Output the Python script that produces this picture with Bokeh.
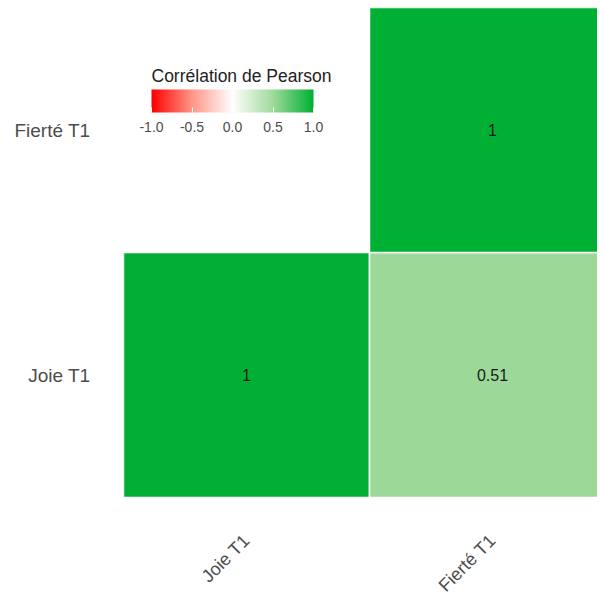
import math
from bokeh.plotting import figure
from bokeh.layouts import column
from bokeh.models import (ColumnDataSource, Range1d, FixedTicker, LinearColorMapper,
                          ColorBar, PrintfTickFormatter)
from bokeh.transform import transform
from bokeh.core.properties import value
from bokeh.embed import file_html
from bokeh.resources import INLINE

# ---- data ----
variables = ["Joie T1", "Fierté T1"]
cell_x = ["Joie T1", "Fierté T1", "Fierté T1"]
cell_y = ["Joie T1", "Joie T1", "Fierté T1"]
corr = [1.0, 0.51, 1.0]
legend_ticks = [-1.0, -0.5, 0.0, 0.5, 1.0]

FONT = "Liberation Sans"

# ---- palette (style): red -> white -> green ----
anchors = [(-1.0, (255, 0, 0)), (-0.5, (255, 150, 135)), (0.0, (255, 255, 255)),
           (0.5, (160, 218, 156)), (1.0, (0, 176, 52))]
palette = []
N = 256
for k in range(N):
    t = -1 + 2 * k / (N - 1)
    for (a, ca), (b, cb) in zip(anchors[:-1], anchors[1:]):
        if a <= t <= b:
            f = (t - a) / (b - a)
            c = tuple(round(ca[j] + (cb[j] - ca[j]) * f) for j in range(3))
            break
    palette.append("#%02x%02x%02x" % c)

mapper = LinearColorMapper(palette=palette, low=-1, high=1)

xs = [variables.index(v) + 0.5 for v in cell_x]
ys = [variables.index(v) + 0.5 for v in cell_y]
labels = [f"{v:g}" for v in corr]
src = ColumnDataSource(dict(x=xs, y=ys, r=corr, lab=labels))

CELL = 246
x_range = Range1d(0, 474 / CELL)
p = figure(width=597, height=497, output_backend="svg", toolbar_location=None,
           x_range=x_range, y_range=Range1d(0, 2),
           min_border_left=123, min_border_right=0, min_border_top=7, min_border_bottom=0)
p.outline_line_color = None
p.grid.visible = False
p.background_fill_color = "white"

p.rect(x="x", y="y", width=1, height=1, source=src,
       fill_color=transform("r", mapper), line_color="white", line_width=1.5)
p.text(x="x", y="y", text="lab", source=src, text_align="center", text_baseline="middle",
       text_font=value(FONT), text_font_size="16px", text_color="#1a1a1a")

tick_pos = [i + 0.5 for i in range(len(variables))]
overrides = {t: v for t, v in zip(tick_pos, variables)}
ax = p.yaxis[0]
ax.ticker = FixedTicker(ticks=tick_pos)
ax.major_label_overrides = overrides
ax.axis_line_color = None
ax.major_tick_line_color = None
ax.minor_tick_line_color = None
ax.major_tick_out = 0
ax.major_tick_in = 0
ax.major_label_text_font = FONT
ax.major_label_text_font_size = "19px"
ax.major_label_text_color = "#4D4D4D"
ax.major_label_standoff = 33
p.xaxis.visible = False

cb = ColorBar(color_mapper=mapper, orientation="horizontal", width=162, height=23,
              location=(28, 363), padding=0, title="Corrélation de Pearson",
              title_text_font=FONT, title_text_font_size="17.5px", title_text_font_style="normal",
              title_text_color="#222222", title_standoff=8,
              ticker=FixedTicker(ticks=legend_ticks), formatter=PrintfTickFormatter(format="%.1f"),
              major_label_text_font=FONT, major_label_text_font_size="14px",
              major_label_text_color="#4D4D4D",
              major_tick_line_color="white", major_tick_in=5, major_tick_out=0,
              minor_tick_line_color=None, bar_line_color=None,
              background_fill_alpha=0, border_line_color=None, label_standoff=9)
p.add_layout(cb, "center")

# ---- strip below the heatmap holding the rotated x tick labels ----
q = figure(width=597, height=100, output_backend="svg", toolbar_location=None,
           x_range=x_range, y_range=Range1d(-100, 0),
           min_border_left=123, min_border_right=0, min_border_top=0, min_border_bottom=0)
q.outline_line_color = None
q.grid.visible = False
q.axis.visible = False
xl_src = ColumnDataSource(dict(x=tick_pos, t=variables))
q.text(x="x", y=-33, text="t", source=xl_src, angle=45, angle_units="deg",
       text_align="right", text_baseline="top", x_offset=-7,
       text_font=value(FONT), text_font_size="18px", text_color="#4D4D4D")

layout = column(p, q, spacing=0)
open("out.html", "w").write(file_html(layout, INLINE))
